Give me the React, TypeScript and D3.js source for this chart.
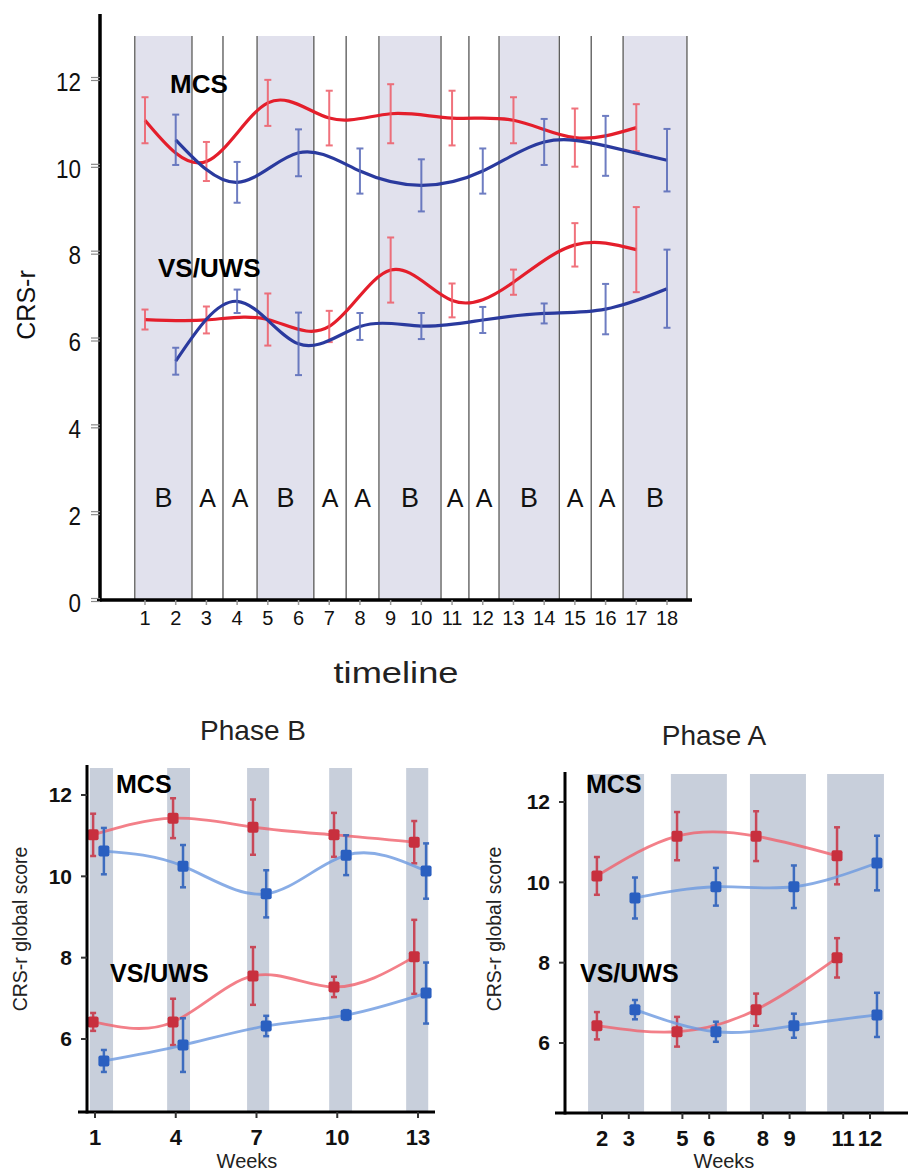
import * as d3 from 'd3';

// ---------- top panel: timeline ----------
const sessOdd = [1, 3, 5, 7, 9, 11, 13, 15, 17];
const sessEven = [2, 4, 6, 8, 10, 12, 14, 16, 18];
const topMcsRed = [11.05, 10.1, 11.45, 11.1, 11.2, 11.1, 11.05, 10.65, 10.88];
const topMcsRedErr = [0.53, 0.45, 0.53, 0.63, 0.68, 0.63, 0.53, 0.67, 0.54];
const topMcsBlue = [10.6, 9.62, 10.3, 9.88, 9.55, 9.88, 10.55, 10.46, 10.13];
const topMcsBlueErr = [0.58, 0.47, 0.54, 0.52, 0.6, 0.52, 0.53, 0.69, 0.72];
const topVsRed = [6.46, 6.45, 6.46, 6.3, 7.6, 6.9, 7.32, 8.18, 8.07];
const topVsRedErr = [0.23, 0.31, 0.6, 0.36, 0.75, 0.39, 0.29, 0.5, 0.98];
const topVsBlue = [5.5, 6.88, 5.9, 6.3, 6.31, 6.45, 6.6, 6.7, 7.17];
const topVsBlueErr = [0.31, 0.27, 0.72, 0.31, 0.3, 0.3, 0.23, 0.58, 0.9];
const bandEdges = [0.67, 2.53, 3.54, 4.65, 6.5, 7.55, 8.62, 10.64, 11.55, 12.53, 14.49, 15.53, 16.57, 18.65];
const phases = ['B', 'A', 'A', 'B', 'A', 'A', 'B', 'A', 'A', 'B', 'A', 'A', 'B'];
const topYTicks = [0, 2, 4, 6, 8, 10, 12];
const topXTicks = [1, 2, 3, 4, 5, 6, 7, 8, 9, 10, 11, 12, 13, 14, 15, 16, 17, 18];

// ---------- bottom left: Phase B ----------
const pbRedWeeks = [0.93, 3.9, 6.87, 9.88, 12.86];
const pbBlueWeeks = [1.33, 4.27, 7.36, 10.33, 13.3];
const pbMcsRed = [11.02, 11.43, 11.21, 11.02, 10.84];
const pbMcsRedErr = [0.52, 0.49, 0.68, 0.54, 0.52];
const pbMcsBlue = [10.62, 10.25, 9.57, 10.52, 10.13];
const pbMcsBlueErr = [0.57, 0.52, 0.58, 0.49, 0.68];
const pbVsRed = [6.42, 6.42, 7.55, 7.28, 8.02];
const pbVsRedErr = [0.22, 0.57, 0.71, 0.25, 0.91];
const pbVsBlue = [5.46, 5.85, 6.32, 6.59, 7.13];
const pbVsBlueErr = [0.27, 0.66, 0.25, 0.12, 0.75];
const pbBands: [number, number][] = [[0.81, 1.67], [3.68, 4.53], [6.65, 7.47], [9.7, 10.55], [12.56, 13.38]];
const pbXTicks = [1, 4, 7, 10, 13];

// ---------- bottom right: Phase A ----------
const paRedWeeks = [1.81, 4.8, 7.75, 10.77];
const paBlueWeeks = [3.23, 6.25, 9.16, 12.26];
const paMcsRed = [10.16, 11.15, 11.15, 10.66];
const paMcsRedErr = [0.47, 0.6, 0.62, 0.71];
const paMcsBlue = [9.61, 9.89, 9.89, 10.48];
const paMcsBlueErr = [0.51, 0.47, 0.53, 0.68];
const paVsRed = [6.43, 6.28, 6.83, 8.12];
const paVsRedErr = [0.34, 0.37, 0.4, 0.49];
const paVsBlue = [6.83, 6.28, 6.43, 6.7];
const paVsBlueErr = [0.24, 0.25, 0.3, 0.55];
const paBands: [number, number][] = [[1.48, 3.57], [4.57, 6.66], [7.52, 9.61], [10.4, 12.52]];
const paXTicks = [2, 3, 5, 6, 8, 9, 11, 12];

const yTicksSmall = [6, 8, 10, 12];

const font = '"Liberation Sans", Arial, Helvetica, sans-serif';

type Series = { xs: number[]; ys: number[]; errs: number[]; line: string; bar: string; mark?: string };

function SeriesMarks({ s, x, y, lineW, cap, barW, barOpacity, lineOpacity }: {
  s: Series;
  x: d3.ScaleLinear<number, number>;
  y: d3.ScaleLinear<number, number>;
  lineW: number;
  cap: number;
  barW: number;
  barOpacity: number;
  lineOpacity: number;
}) {
  const pts = s.xs.map((v, i) => [v, s.ys[i]] as [number, number]);
  const path = d3
    .line<[number, number]>()
    .x((d) => x(d[0]))
    .y((d) => y(d[1]))
    .curve(d3.curveNatural)(pts);
  return (
    <g>
      <path d={path || ''} fill="none" stroke={s.line} strokeWidth={lineW} strokeOpacity={lineOpacity} />
      {pts.map((d, i) => {
        const cx = x(d[0]);
        const y1 = y(d[1] + s.errs[i]);
        const y2 = y(d[1] - s.errs[i]);
        return (
          <g key={i} stroke={s.bar} strokeWidth={barW} opacity={barOpacity}>
            <line x1={cx} x2={cx} y1={y1} y2={y2} />
            <line x1={cx - cap / 2} x2={cx + cap / 2} y1={y1} y2={y1} />
            <line x1={cx - cap / 2} x2={cx + cap / 2} y1={y2} y2={y2} />
          </g>
        );
      })}
      {s.mark &&
        pts.map((d, i) => (
          <rect key={'m' + i} x={x(d[0]) - 5.5} y={y(d[1]) - 5.5} width={11} height={11} rx={2} fill={s.mark} />
        ))}
    </g>
  );
}

function TopChart() {
  const x = d3.scaleLinear().domain([1, 18]).range([145, 667]);
  const y = d3.scaleLinear().domain([0, 12]).range([600, 79]);
  const axisX = 100;
  const bandTop = 36;
  const series: Series[] = [
    { xs: sessOdd, ys: topMcsRed, errs: topMcsRedErr, line: '#e41e2b', bar: '#ee5a66' },
    { xs: sessEven, ys: topMcsBlue, errs: topMcsBlueErr, line: '#2a3a9e', bar: '#5567b8' },
    { xs: sessOdd, ys: topVsRed, errs: topVsRedErr, line: '#e41e2b', bar: '#ee5a66' },
    { xs: sessEven, ys: topVsBlue, errs: topVsBlueErr, line: '#2a3a9e', bar: '#5567b8' },
  ];
  return (
    <g fontFamily={font}>
      {phases.map((p, i) =>
        p === 'B' ? (
          <rect
            key={'b' + i}
            x={x(bandEdges[i]) + 1}
            y={bandTop}
            width={x(bandEdges[i + 1]) - x(bandEdges[i]) - 2}
            height={y(0) - bandTop}
            fill="#e1e1ed"
          />
        ) : null,
      )}
      {bandEdges.map((e, i) => (
        <line key={'e' + i} x1={x(e)} x2={x(e)} y1={bandTop} y2={y(0)} stroke="#222" strokeWidth={1} />
      ))}
      {phases.map((p, i) => (
        <text
          key={'p' + i}
          x={(x(bandEdges[i]) + x(bandEdges[i + 1])) / 2}
          y={498}
          dy="0.35em"
          textAnchor="middle"
          fontSize={p === 'B' ? 27 : 25}
          fill="#111"
        >
          {p}
        </text>
      ))}
      {series.map((s, i) => (
        <SeriesMarks key={i} s={s} x={x} y={y} lineW={3.2} cap={7} barW={2} barOpacity={0.85} lineOpacity={1} />
      ))}
      <text x={170} y={93} fontSize={26} fontWeight="bold" fill="#000">MCS</text>
      <text x={158} y={277} fontSize={26} fontWeight="bold" fill="#000">VS/UWS</text>
      {/* axes */}
      <line x1={axisX} x2={axisX} y1={14} y2={y(0) + 1.5} stroke="#000" strokeWidth={3.5} />
      <line x1={axisX - 3} x2={692} y1={y(0)} y2={y(0)} stroke="#000" strokeWidth={3.5} />
      {topYTicks.map((t) => (
        <g key={'yt' + t}>
          <line x1={axisX - 9} x2={axisX} y1={y(t) - 1.5} y2={y(t) - 1.5} stroke="#888" strokeWidth={1.2} />
          <line x1={axisX - 9} x2={axisX} y1={y(t) + 1.5} y2={y(t) + 1.5} stroke="#888" strokeWidth={1.2} />
          <text
            x={81}
            y={y(t) + 3}
            dy="0.35em"
            textAnchor="end"
            fontSize={25}
            textLength={String(t).length * 12.5}
            lengthAdjust="spacingAndGlyphs"
            fill="#111"
          >
            {t}
          </text>
        </g>
      ))}
      {topXTicks.map((t) => (
        <g key={'xt' + t}>
          <line x1={x(t)} x2={x(t)} y1={y(0)} y2={y(0) + 5} stroke="#999" strokeWidth={1.5} />
          <text x={x(t)} y={618} dy="0.35em" textAnchor="middle" fontSize={20} fill="#111">
            {t}
          </text>
        </g>
      ))}
      <text
        x={396}
        y={672}
        dy="0.35em"
        textAnchor="middle"
        fontSize={30}
        textLength={125}
        lengthAdjust="spacingAndGlyphs"
        fill="#222"
      >
        timeline
      </text>
      <text
        transform="translate(26,305) rotate(-90)"
        dy="0.35em"
        textAnchor="middle"
        fontSize={25}
        fill="#111"
      >
        CRS-r
      </text>
    </g>
  );
}

function PhasePanel({
  title,
  titleX,
  titleY,
  x,
  y,
  axisX,
  axisTop,
  axisY,
  axisLeft,
  axisRight,
  bandTop,
  bands,
  xTicks,
  series,
  labelX,
  ylabelX,
  weeksX,
}: {
  title: string;
  titleX: number;
  titleY: number;
  x: d3.ScaleLinear<number, number>;
  y: d3.ScaleLinear<number, number>;
  axisX: number;
  axisTop: number;
  axisY: number;
  axisLeft: number;
  axisRight: number;
  bandTop: number;
  bands: [number, number][];
  xTicks: number[];
  series: Series[];
  labelX: number;
  ylabelX: number;
  weeksX: number;
}) {
  return (
    <g fontFamily={font}>
      <text x={titleX} y={titleY} textAnchor="middle" fontSize={28} fill="#222">
        {title}
      </text>
      {bands.map((b, i) => (
        <rect key={i} x={x(b[0])} y={bandTop} width={x(b[1]) - x(b[0])} height={axisY - bandTop} fill="#c8cfdb" />
      ))}
      {series.map((s, i) => (
        <SeriesMarks key={i} s={s} x={x} y={y} lineW={2.8} cap={6} barW={2.5} barOpacity={0.9} lineOpacity={0.8} />
      ))}
      <text x={labelX} y={793} fontSize={25} fontWeight="bold" fill="#000">MCS</text>
      <text x={labelX - 6} y={982} fontSize={25} fontWeight="bold" fill="#000">VS/UWS</text>
      <line x1={axisX} x2={axisX} y1={axisTop} y2={axisY + 1.5} stroke="#000" strokeWidth={3} />
      <line x1={axisLeft} x2={axisRight} y1={axisY} y2={axisY} stroke="#000" strokeWidth={3} />
      {yTicksSmall.map((t) => (
        <g key={'y' + t}>
          <line x1={axisX - 6} x2={axisX} y1={y(t)} y2={y(t)} stroke="#333" strokeWidth={2} />
          <text x={axisX - 15} y={y(t)} dy="0.35em" textAnchor="end" fontSize={21} fontWeight="bold" fill="#111">
            {t}
          </text>
        </g>
      ))}
      {xTicks.map((t) => (
        <g key={'x' + t}>
          <line x1={x(t)} x2={x(t)} y1={axisY} y2={axisY + 6} stroke="#333" strokeWidth={2} />
          <text x={x(t)} y={axisY + 25} dy="0.35em" textAnchor="middle" fontSize={22} fontWeight="bold" fill="#111">
            {t}
          </text>
        </g>
      ))}
      <text x={weeksX} y={1161} dy="0.35em" textAnchor="middle" fontSize={20} fill="#222">
        Weeks
      </text>
      <text
        transform={`translate(${ylabelX},929) rotate(-90)`}
        dy="0.35em"
        textAnchor="middle"
        fontSize={19.5}
        fill="#222"
      >
        CRS-r global score
      </text>
    </g>
  );
}

const redLine = '#f0606c';
const redBar = '#c93a4a';
const redMark = '#c8303e';
const blueLine = '#6b98e0';
const blueBar = '#2f62bc';
const blueMark = '#2a5fc0';

export default function App() {
  const xB = d3.scaleLinear().domain([1, 13]).range([95, 418]);
  const yB = d3.scaleLinear().domain([6, 12]).range([1039, 795]);
  const xA = d3.scaleLinear().domain([2, 12]).range([602, 870]);
  const yA = d3.scaleLinear().domain([6, 12]).range([1043, 802]);

  const seriesB: Series[] = [
    { xs: pbRedWeeks, ys: pbMcsRed, errs: pbMcsRedErr, line: redLine, bar: redBar, mark: redMark },
    { xs: pbBlueWeeks, ys: pbMcsBlue, errs: pbMcsBlueErr, line: blueLine, bar: blueBar, mark: blueMark },
    { xs: pbRedWeeks, ys: pbVsRed, errs: pbVsRedErr, line: redLine, bar: redBar, mark: redMark },
    { xs: pbBlueWeeks, ys: pbVsBlue, errs: pbVsBlueErr, line: blueLine, bar: blueBar, mark: blueMark },
  ];
  const seriesA: Series[] = [
    { xs: paRedWeeks, ys: paMcsRed, errs: paMcsRedErr, line: redLine, bar: redBar, mark: redMark },
    { xs: paBlueWeeks, ys: paMcsBlue, errs: paMcsBlueErr, line: blueLine, bar: blueBar, mark: blueMark },
    { xs: paRedWeeks, ys: paVsRed, errs: paVsRedErr, line: redLine, bar: redBar, mark: redMark },
    { xs: paBlueWeeks, ys: paVsBlue, errs: paVsBlueErr, line: blueLine, bar: blueBar, mark: blueMark },
  ];

  return (
    <div style={{ position: 'absolute', left: 0, top: 0 }}>
      <svg width={908} height={1174} style={{ display: 'block', background: '#fff' }}>
        <TopChart />
        <PhasePanel
          title="Phase B"
          titleX={253}
          titleY={740}
          x={xB}
          y={yB}
          axisX={87}
          axisTop={765}
          axisY={1112}
          axisLeft={78}
          axisRight={435}
          bandTop={768}
          bands={pbBands}
          xTicks={pbXTicks}
          series={seriesB}
          labelX={116}
          ylabelX={20}
          weeksX={247}
        />
        <PhasePanel
          title="Phase A"
          titleX={714}
          titleY={745}
          x={xA}
          y={yA}
          axisX={565}
          axisTop={772}
          axisY={1113}
          axisLeft={555}
          axisRight={908}
          bandTop={774}
          bands={paBands}
          xTicks={paXTicks}
          series={seriesA}
          labelX={586}
          ylabelX={494}
          weeksX={724}
        />
      </svg>
    </div>
  );
}
